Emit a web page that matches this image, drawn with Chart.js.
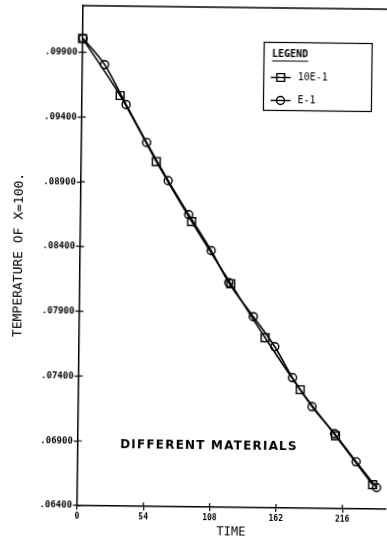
<!DOCTYPE html>
<html>
<head>
<meta charset="utf-8">
<script src="https://cdn.jsdelivr.net/npm/chart.js@4.4.1/dist/chart.umd.min.js"></script>
<style>
  html, body { margin: 0; padding: 0; background: #fff; overflow: hidden; }
  /* the scanned plot is turned a little clockwise */
  #wrap { width: 395px; height: 539px; transform: rotate(0.68deg); transform-origin: 197.5px 269.5px; }
</style>
</head>
<body>
<div id="wrap"><canvas id="chart" width="395" height="539"></canvas></div>
<script>
const seriesNames = ['10E-1', 'E-1'];
const squareTime = [0, 31.2, 61.3, 90.6, 123.0, 151.5, 180.6, 209.8, 240.5];
const squareTemp = [.10006, .09569, .09063, .08603, .08127, .07714, .07315, .06963, .06588];
const circleTime = [0.5, 18.2, 36.1, 53.2, 71.1, 88.1, 106.8, 121.4, 141.7, 159.5, 174.2, 190.4, 209.0, 226.8, 243.7];
const circleTemp = [.10006, .09807, .09500, .09209, .08917, .08656, .08380, .08135, .07875, .07645, .07407, .07185, .06979, .06764, .06566];
const timeTicks = [0, 54, 108, 162, 216];
const tempTicks = [.064, .069, .074, .079, .084, .089, .094, .099];
const noteText = 'DIFFERENT MATERIALS';
const legendTitle = 'LEGEND';

const mono = 'DejaVu Sans Mono';

function pairs(xs, ys) {
  return xs.map((t, i) => ({ x: t, y: ys[i] }));
}

// top frame line, inner half of the tick crosses, legend box and the note
const extras = {
  id: 'extras',
  afterDraw(chart) {
    const { ctx, chartArea: a, scales: { x, y } } = chart;
    ctx.save();
    ctx.strokeStyle = '#000';
    ctx.fillStyle = '#000';
    ctx.lineWidth = 1.5;
    ctx.beginPath();
    ctx.moveTo(a.left, a.top);
    ctx.lineTo(a.right, a.top);
    ctx.stroke();

    ctx.lineWidth = 1.2;
    ctx.beginPath();
    tempTicks.forEach(v => {
      const py = y.getPixelForValue(v);
      ctx.moveTo(a.left, py); ctx.lineTo(a.left + 4, py);
    });
    timeTicks.forEach(v => {
      if (v === 0) return;
      const px = x.getPixelForValue(v);
      ctx.moveTo(px, a.bottom); ctx.lineTo(px, a.bottom - 4);
    });
    ctx.stroke();

    // legend
    const bx = 261.5, by = 41.5, bw = 108, bh = 68;
    ctx.lineWidth = 1.2;
    ctx.strokeRect(bx, by, bw, bh);
    ctx.font = 'bold 10px ' + mono;
    ctx.textAlign = 'left';
    ctx.textBaseline = 'middle';
    ctx.fillText(legendTitle, bx + 8, by + 12);
    const tw = ctx.measureText(legendTitle).width;
    ctx.beginPath();
    ctx.moveTo(bx + 8, by + 18.5); ctx.lineTo(bx + 8 + tw, by + 18.5);
    ctx.stroke();
    ctx.font = '10px ' + mono;
    chart.data.datasets.forEach((ds, i) => {
      const ry = by + 35 + i * 23;
      ctx.lineWidth = 1.4;
      ctx.beginPath();
      ctx.moveTo(bx + 7, ry); ctx.lineTo(bx + 27, ry);
      ctx.stroke();
      ctx.fillStyle = 'rgba(0,0,0,0)';
      Chart.helpers.drawPoint(ctx, { pointStyle: ds.pointStyle, radius: ds.pointRadius, rotation: 0, borderWidth: 1.4 }, bx + 17, ry);
      ctx.fillStyle = '#000';
      ctx.fillText(ds.label, bx + 34, ry);
    });

    // note inside the plot
    ctx.font = 'bold 12px DejaVu Sans';
    ctx.letterSpacing = '1.2px';
    ctx.textAlign = 'center';
    ctx.fillText(noteText, 211, 446);
    ctx.restore();
  }
};

new Chart('chart', {
  type: 'line',
  data: {
    datasets: [
      { label: seriesNames[0], data: pairs(squareTime, squareTemp), pointStyle: 'rect', pointRadius: 5.5, clip: false },
      { label: seriesNames[1], data: pairs(circleTime, circleTemp), pointStyle: 'circle', pointRadius: 4, clip: false }
    ]
  },
  options: {
    responsive: false,
    animation: false,
    layout: { padding: { top: 7, left: 0, right: 0, bottom: 0 } },
    plugins: { legend: { display: false }, tooltip: { enabled: false } },
    elements: {
      line: { cubicInterpolationMode: 'monotone', borderColor: '#000', borderWidth: 1.6, fill: false },
      point: { borderColor: '#000', backgroundColor: 'rgba(0,0,0,0)', borderWidth: 1.4 }
    },
    scales: {
      x: {
        type: 'linear', min: 0, max: 251,
        afterBuildTicks: s => { s.ticks = timeTicks.map(v => ({ value: v })); },
        afterFit: s => { s.height = 32; },
        grid: { drawOnChartArea: false, tickLength: 4, color: '#000', lineWidth: 1.2 },
        border: { color: '#000', width: 1.5 },
        ticks: { color: '#000', font: { family: mono, size: 8, weight: 'bold' }, padding: 2, maxRotation: 0, autoSkip: false },
        title: { display: true, text: 'TIME', color: '#000', font: { family: mono, size: 12 }, padding: 0 }
      },
      y: {
        type: 'linear', min: .064, max: .1026,
        afterBuildTicks: s => { s.ticks = tempTicks.map(v => ({ value: v })); },
        afterFit: s => { s.width = 79.8; },
        grid: { drawOnChartArea: false, tickLength: 4, color: '#000', lineWidth: 1.2 },
        border: { color: '#000', width: 1.5 },
        ticks: {
          color: '#000', font: { family: mono, size: 9, weight: 'bold' }, padding: 1, autoSkip: false,
          callback: v => v.toFixed(5).replace(/^0/, '')
        },
        title: { display: true, text: 'TEMPERATURE OF X=100.', color: '#000', font: { family: mono, size: 13 }, padding: { top: 11, bottom: 0 } }
      }
    }
  },
  plugins: [extras]
});
</script>
</body>
</html>
